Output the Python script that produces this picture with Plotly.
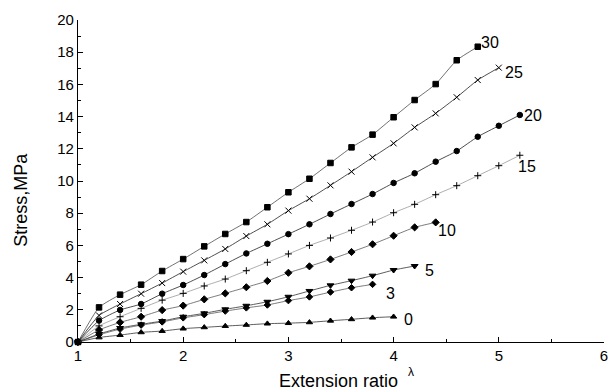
import plotly.graph_objects as go

# ---- data ----
x30 = [1.0, 1.2, 1.4, 1.6, 1.8, 2.0, 2.2, 2.4, 2.6, 2.8, 3.0, 3.2, 3.4, 3.6, 3.8, 4.0, 4.2, 4.4, 4.6, 4.8]
y30 = [0, 2.15, 2.94, 3.56, 4.41, 5.15, 5.94, 6.71, 7.45, 8.37, 9.3, 10.14, 11.12, 12.09, 12.88, 13.96, 15.03, 16.02, 17.5, 18.34]

x25 = [1.0, 1.2, 1.4, 1.6, 1.8, 2.0, 2.2, 2.4, 2.6, 2.8, 3.0, 3.2, 3.4, 3.6, 3.8, 4.0, 4.2, 4.4, 4.6, 4.8, 5.0]
y25 = [0, 1.65, 2.36, 3.0, 3.66, 4.37, 5.07, 5.78, 6.58, 7.31, 8.16, 8.9, 9.73, 10.58, 11.47, 12.34, 13.33, 14.2, 15.2, 16.27, 17.04]

x20 = [1.0, 1.2, 1.4, 1.6, 1.8, 2.0, 2.2, 2.4, 2.6, 2.8, 3.0, 3.2, 3.4, 3.6, 3.8, 4.0, 4.2, 4.4, 4.6, 4.8, 5.0, 5.2]
y20 = [0, 1.33, 1.99, 2.36, 3.0, 3.54, 4.16, 4.84, 5.5, 6.1, 6.7, 7.31, 7.95, 8.57, 9.19, 9.88, 10.48, 11.2, 11.86, 12.75, 13.43, 14.1]

x15 = [1.0, 1.2, 1.4, 1.6, 1.8, 2.0, 2.2, 2.4, 2.6, 2.8, 3.0, 3.2, 3.4, 3.6, 3.8, 4.0, 4.2, 4.4, 4.6, 4.8, 5.0, 5.2]
y15 = [0, 1.0, 1.57, 2.09, 2.6, 3.02, 3.48, 3.91, 4.43, 4.95, 5.47, 6.0, 6.46, 6.94, 7.45, 8.03, 8.55, 9.15, 9.71, 10.33, 10.95, 11.6]

x10 = [1.0, 1.2, 1.4, 1.6, 1.8, 2.0, 2.2, 2.4, 2.6, 2.8, 3.0, 3.2, 3.4, 3.6, 3.8, 4.0, 4.2, 4.4]
y10 = [0, 0.75, 1.22, 1.57, 1.98, 2.26, 2.65, 3.02, 3.4, 3.79, 4.3, 4.7, 5.13, 5.59, 6.07, 6.6, 7.12, 7.43]

x5 = [1.0, 1.2, 1.4, 1.6, 1.8, 2.0, 2.2, 2.4, 2.6, 2.8, 3.0, 3.2, 3.4, 3.6, 3.8, 4.0, 4.2]
y5 = [0, 0.5, 0.87, 1.1, 1.3, 1.57, 1.78, 2.03, 2.25, 2.5, 2.81, 3.17, 3.52, 3.81, 4.12, 4.47, 4.72]

x3 = [1.0, 1.2, 1.4, 1.6, 1.8, 2.0, 2.2, 2.4, 2.6, 2.8, 3.0, 3.2, 3.4, 3.6, 3.8]
y3 = [0, 0.45, 0.8, 1.05, 1.25, 1.5, 1.7, 1.92, 2.12, 2.3, 2.57, 2.8, 3.1, 3.37, 3.58]

x0 = [1.0, 1.2, 1.4, 1.6, 1.8, 2.0, 2.2, 2.4, 2.6, 2.8, 3.0, 3.2, 3.4, 3.6, 3.8, 4.0]
y0 = [0, 0.28, 0.43, 0.6, 0.68, 0.83, 0.91, 0.99, 1.06, 1.14, 1.17, 1.22, 1.32, 1.41, 1.51, 1.57]

series_names = ["30", "25", "20", "15", "10", "5", "3", "0"]
label_x = [4.915, 5.142, 5.327, 5.269, 4.509, 4.337, 3.972, 4.142]
label_y = [18.63, 16.71, 14.07, 10.87, 6.94, 4.45, 3.04, 1.385]

x_ticks = [1, 2, 3, 4, 5, 6]
y_ticks = [0, 2, 4, 6, 8, 10, 12, 14, 16, 18, 20]

# ---- styles ----
series = [
    (x30, y30, "square", 5.5, "#333", 0.7),
    (x25, y25, "x-thin", 6, "#222", 0.8),
    (x20, y20, "circle", 5.5, "#222", 0.8),
    (x15, y15, "cross-thin", 5, "#777", 0.6),
    (x10, y10, "diamond", 5.5, "#444", 0.7),
    (x5, y5, "triangle-down", 6, "#333", 0.8),
    (x3, y3, "diamond", 5, "#444", 0.7),
    (x0, y0, "triangle-up", 5.5, "#333", 0.8),
]

fig = go.Figure()
for (xs, ys, sym, sz, col, lw), name in zip(series, series_names):
    fig.add_trace(go.Scatter(
        x=xs, y=ys, mode="lines+markers", name=name,
        line=dict(color=col, width=lw, shape="spline", smoothing=0.5),
        marker=dict(symbol=sym, size=sz, color="#000",
                    line=dict(color="#000", width=1)),
        cliponaxis=False, showlegend=False,
    ))

for name, lx, ly in zip(series_names, label_x, label_y):
    fig.add_annotation(x=lx, y=ly, text=name, showarrow=False,
                       xanchor="center", yanchor="middle",
                       font=dict(size=16, color="#000"))

fig.add_annotation(xref="paper", yref="paper", x=0.4955, y=-0.121,
                   text="Extension ratio", showarrow=False,
                   xanchor="center", yanchor="middle",
                   font=dict(size=18, color="#000"))
fig.add_annotation(xref="paper", yref="paper", x=0.633, y=-0.094,
                   text="λ", showarrow=False,
                   xanchor="center", yanchor="middle",
                   font=dict(size=12, color="#000"))
fig.add_annotation(xref="paper", yref="paper", x=-0.109, y=0.441,
                   text="Stress,MPa", showarrow=False, textangle=-90,
                   xanchor="center", yanchor="middle",
                   font=dict(size=18, color="#000"))

fig.update_layout(
    width=613, height=392,
    margin=dict(l=78, r=5, t=20, b=50),
    paper_bgcolor="white", plot_bgcolor="white",
    font=dict(family="Liberation Sans, Arial, sans-serif", color="#000", size=13),
    xaxis=dict(range=[1, 6], tickvals=x_ticks, ticks="inside", ticklen=5,
               tickwidth=1, tickcolor="#000", showline=True, linecolor="#000",
               linewidth=1.2, showgrid=False, zeroline=False,
               minor=dict(dtick=0.5, ticks="inside", ticklen=3, tickcolor="#000"),
               tickfont=dict(size=15)),
    yaxis=dict(range=[0, 20], tickvals=y_ticks, ticks="inside", ticklen=5,
               tickwidth=1, tickcolor="#000", showline=True, linecolor="#000",
               linewidth=1.2, showgrid=False, zeroline=False,
               minor=dict(dtick=1, ticks="inside", ticklen=3, tickcolor="#000"),
               tickfont=dict(size=15)),
)

fig.write_html("out.html", config={"displayModeBar": False},
               post_script="document.body.style.margin='0';document.body.style.overflow='hidden';")
